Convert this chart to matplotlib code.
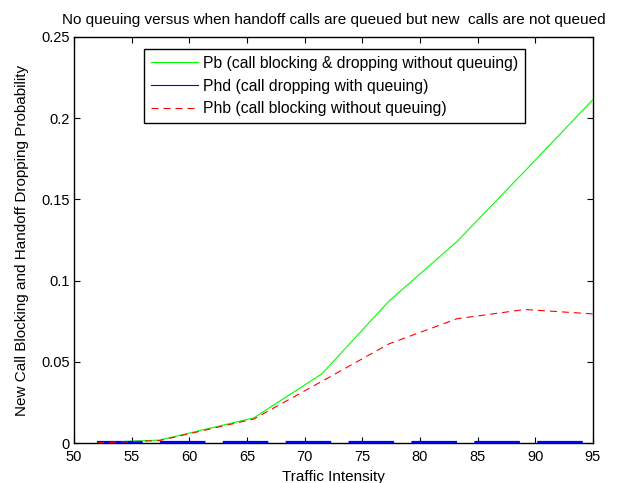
import matplotlib
matplotlib.use("Agg")
import matplotlib.pyplot as plt
from matplotlib.lines import Line2D

plt.rcParams['font.family'] = ['Liberation Sans', 'DejaVu Sans']

traffic = [52.0, 57.4, 65.6, 71.5, 77.3, 83.2, 89.1, 95.0]
pb = [0.0003, 0.0018, 0.0155, 0.0426, 0.0873, 0.1240, 0.1675, 0.2115]
phd = [0.0006, 0.0006, 0.0006, 0.0006, 0.0006, 0.0006, 0.0006, 0.0006]
phb = [0.0001, 0.0015, 0.0148, 0.0380, 0.0610, 0.0765, 0.0822, 0.0795]

labels = ['Pb (call blocking & dropping without queuing)',
          'Phd (call dropping with queuing)',
          'Phb (call blocking without queuing)']
xticks = [50, 55, 60, 65, 70, 75, 80, 85, 90, 95]
yticks = [0, 0.05, 0.1, 0.15, 0.2, 0.25]
ytick_labels = ['0', '0.05', '0.1', '0.15', '0.2', '0.25']

fig = plt.figure(figsize=(6.18, 4.83), dpi=100)
ax = fig.add_axes([0.1197, 0.0828, 0.8398, 0.8406])

ax.plot(traffic, pb, color='#00ff00', lw=0.8, zorder=3)
ax.plot(traffic, phd, color='#0000ff', lw=1.6, dashes=(20.5, 7.8), zorder=4, clip_on=False)
ax.plot(traffic, phb, color='#ff0000', lw=0.8, dashes=(6.3, 4.5), zorder=5)

ax.set_xlim(50, 95)
ax.set_ylim(0, 0.25)
ax.set_xticks(xticks)
ax.set_xticklabels([str(t) for t in xticks])
ax.set_yticks(yticks)
ax.set_yticklabels(ytick_labels)
ax.tick_params(direction='in', top=True, right=True, length=4, width=0.8, labelsize=10.5)
ax.tick_params(axis='x', pad=5)
ax.tick_params(axis='y', pad=3)
for s in ax.spines.values():
    s.set_linewidth(1.0)

ax.set_xlabel('Traffic Intensity', fontsize=11, labelpad=4.5)
ax.set_ylabel('New Call Blocking and Handoff Dropping Probability', fontsize=11, labelpad=8.5)
ax.set_title('No queuing versus when handoff calls are queued but new  calls are not queued',
             fontsize=11, pad=9)

handles = [Line2D([], [], color='#00ff00', lw=0.8),
           Line2D([], [], color='#0000ff', lw=0.8),
           Line2D([], [], color='#ff0000', lw=0.8, dashes=(6.3, 4.5))]
leg = ax.legend(handles, labels, loc='upper left', bbox_to_anchor=(0.135, 0.970),
                fontsize=11.3, frameon=True, fancybox=False, framealpha=1,
                edgecolor='black', handlelength=3.0, handletextpad=0.35,
                borderpad=0.42, labelspacing=0.5, borderaxespad=0)
leg.get_frame().set_linewidth(1.0)

fig.savefig('out.png', dpi=100)
